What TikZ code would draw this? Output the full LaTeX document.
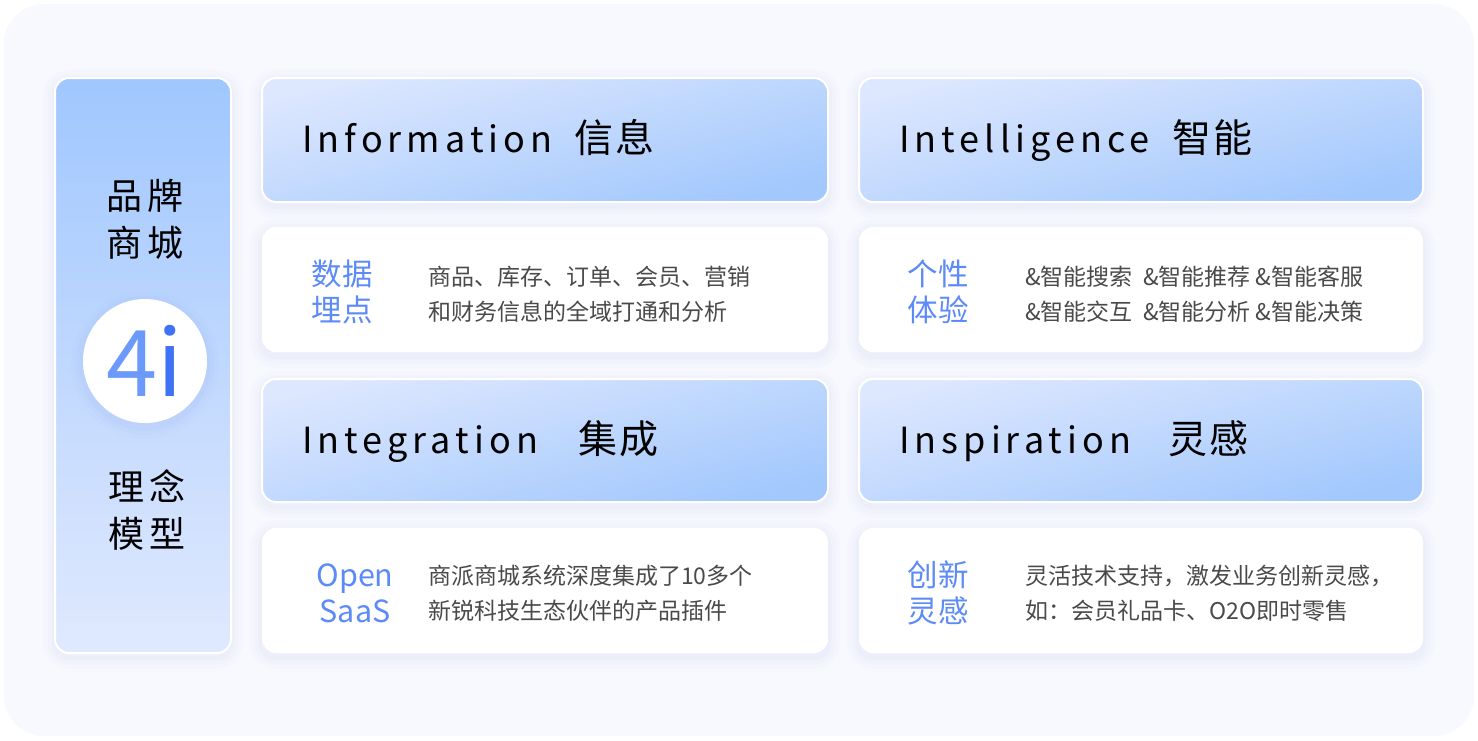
\documentclass[tikz,border=0pt]{standalone}
\usepackage{fontspec}
\setmainfont{Noto Sans CJK SC}
\newfontfamily\headfont[LetterSpace=14]{Noto Sans CJK SC}
\newfontfamily\hanfont[LetterSpace=6]{Noto Sans CJK SC}
\newfontfamily\sidefont[LetterSpace=15]{Noto Sans CJK SC}

\definecolor{bgpale}{HTML}{F8F9FE}
\definecolor{hlight}{HTML}{DDE7FE}
\definecolor{hdeep}{HTML}{A2C8FD}
\definecolor{sidetop}{HTML}{A0C7FE}
\definecolor{sidebot}{HTML}{E0E9FE}
\definecolor{lblblue}{HTML}{5C8AF7}
\definecolor{fourblue}{HTML}{6C9AFA}
\definecolor{iblue}{HTML}{3F72F4}
\definecolor{bodygray}{HTML}{4A4A4A}
\definecolor{shadowblue}{HTML}{B4BEE6}
\definecolor{glowblue}{HTML}{8FAAF5}

\begin{document}
\begin{tikzpicture}[x=1pt, y=-1pt]
	\tikzset{
	    soft/.style= {preaction={draw=#1, line width=24pt, opacity=0.035, transform canvas={yshift=-4pt}},
	        preaction={draw=#1, line width=15pt, opacity=0.05, transform canvas={yshift=-4pt}},
	        preaction={draw=#1, line width=7pt, opacity=0.07, transform canvas={yshift=-4pt}}},
	    panel/.style= {rectangle, rounded corners=14pt, inner sep=0pt, soft=shadowblue},
	    hbox/.style= {panel, draw=white, line width=2pt, top color=hlight,
	        bottom color=hdeep, shading angle=14, minimum width=566pt, minimum height=124pt},
	    cbox/.style= {panel, fill=white, minimum width=566pt, minimum height=125pt},
	    htext/.style= {anchor=base west, inner sep=0pt, font=\headfont\fontsize{36}{40}\selectfont},
	    hcjk/.style= {anchor=base west, inner sep=0pt, font=\hanfont\fontsize{39}{40}\selectfont},
	    lbl/.style= {align=center, inner sep=0pt, text=lblblue, font=\fontsize{30.5}{36}\selectfont},
	    txt/.style= {anchor=west, align=left, inner sep=0pt, text=bodygray, font=\fontsize{23}{35}\selectfont},
	    stext/.style= {align=center, inner sep=0pt, font=\sidefont\fontsize{36}{47}\selectfont},
	}
	\useasboundingbox (0,0) rectangle (1478,740);

	% backdrop
	\node[rectangle, rounded corners=40pt, fill=bgpale, minimum width=1470pt, minimum height=732pt] (bg) at (739,370) {};

	% left column
	\node[panel, draw=white, line width=2pt, top color=sidetop, bottom color=sidebot,
	    minimum width=176pt, minimum height=575pt] (side) at (143,365.5) {};
	\node[stext] (brand) at (145,219) {品牌\\商城};
	\node[circle, fill=white, minimum size=124pt, inner sep=0pt, soft=glowblue] (core) at (145,361) {};
	\node[inner sep=0pt, font=\fontsize{92}{92}\selectfont] (fouri) at (core)
	    {\textcolor{fourblue}{4}\textcolor{iblue}{i}};
	\node[stext] (idea) at (147,510) {理念\\模型};

	% headers
	\node[hbox] (info) at (545,140) {};
	\node[hbox, minimum width=564pt] (intel) at (1141,140) {};
	\node[hbox, minimum height=123pt] (integ) at (545,440.5) {};
	\node[hbox, minimum width=564pt, minimum height=123pt] (insp) at (1141,440.5) {};

	\node[htext] (infot) at (302,152) {Information};
	\node[hcjk] (infoc) at (574,152) {信息};
	\node[htext] (intelt) at (899,152) {Intelligence};
	\node[hcjk] (intelc) at (1172,152) {智能};
	\node[htext] (integt) at (302,453) {Integration};
	\node[hcjk] (integc) at (578,453) {集成};
	\node[htext] (inspt) at (899,453) {Inspiration};
	\node[hcjk] (inspc) at (1168,453) {灵感};

	% detail cards
	\node[cbox] (data) at (545,289.5) {};
	\node[cbox, minimum width=564pt] (pers) at (1141,289.5) {};
	\node[cbox] (open) at (545,590.5) {};
	\node[cbox, minimum width=564pt] (inno) at (1141,590.5) {};

	\node[lbl] (datal) at (342,292) {数据\\埋点};
	\node[lbl] (persl) at (938,292) {个性\\体验};
	\node[lbl] (openl) at (355,593) {Open\\SaaS};
	\node[lbl] (innol) at (938,593) {创新\\灵感};

	\node[txt] (datat) at (428,294) {商品、库存、订单、会员、营销\\和财务信息的全域打通和分析};
	\node[txt] (perst) at (1025,294)
	    {\&智能搜索\ \ \&智能推荐 \&智能客服\\\&智能交互\ \ \&智能分析 \&智能决策};
	\node[txt] (opent) at (428,593) {商派商城系统深度集成了10多个\\新锐科技生态伙伴的产品插件};
	\node[txt] (innot) at (1025,593) {灵活技术支持，激发业务创新灵感，\\如：会员礼品卡、O2O即时零售};
\end{tikzpicture}
\end{document}
